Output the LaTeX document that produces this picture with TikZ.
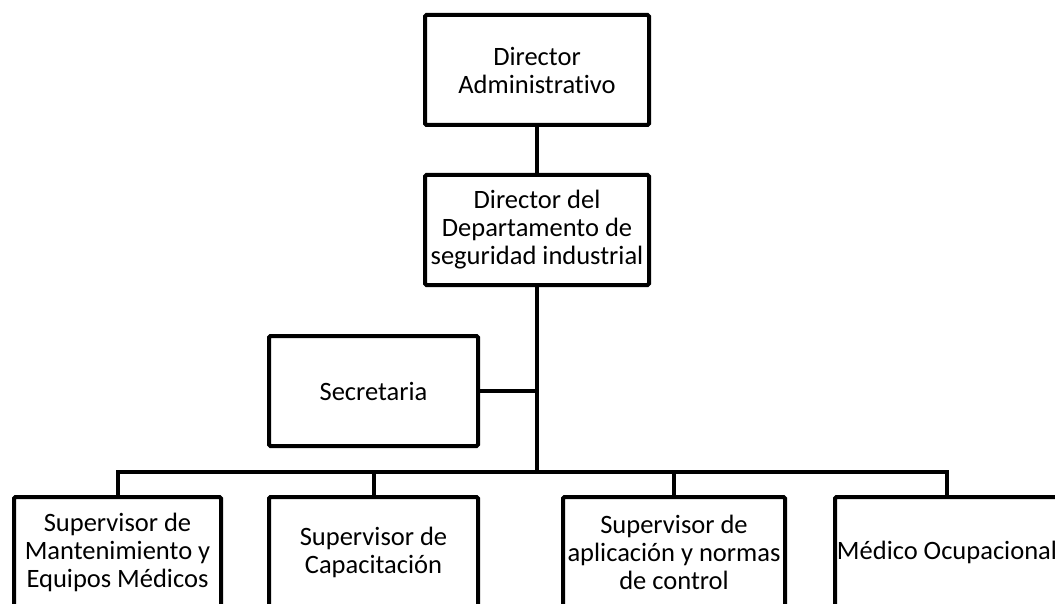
\documentclass[tikz,border=0pt]{standalone}
\usepackage{fontspec}
\setmainfont[Ligatures=NoCommon]{Carlito}
\usetikzlibrary{positioning}

\begin{document}
\begin{tikzpicture}[
    x=1pt, y=-1pt,
    % Box style
    orgbox/.style={
        rectangle,
        rounded corners=1.5pt,
        draw=black,
        line width=4pt,
        fill=white,
        align=center,
        inner sep=1pt,
        minimum height=110pt,
        font=\fontsize{26.5}{28}\selectfont
    },
    % Connector style
    link/.style={
        draw=black,
        line width=4pt
    }
]
\useasboundingbox (0,0) rectangle (1055,604);
\clip (0,0) rectangle (1055,604);

% === Top ===
\node[orgbox, minimum width=224pt] (dir) at (537, 70) {Director\\Administrativo};
\node[orgbox, minimum width=224pt] (dsi) at (537, 230) {Director del\\Departamento de\\seguridad industrial};

% === Staff ===
\node[orgbox, minimum width=209pt] (sec) at (373.5, 391) {Secretaria};

% === Supervisors ===
\node[orgbox, minimum width=207pt] (sup1) at (117.5, 552) {Supervisor de\\Mantenimiento y\\Equipos Médicos};
\node[orgbox, minimum width=209pt] (sup2) at (373.5, 552) {Supervisor de\\Capacitación};
\node[orgbox, minimum width=222pt] (sup3) at (674, 552) {Supervisor de\\aplicación y normas\\de control};
\node[orgbox, minimum width=224pt] (sup4) at (947, 552) {Médico Ocupacional};

\coordinate (bus) at (537, 472);

% === Connectors ===
\draw[link] (dir) -- (dsi);
\draw[link] (dsi) -- (dsi |- bus);
\draw[link] (sec.east) -- (sec.east -| dsi.south);
\draw[link] (sup1.north) |- (bus) -| (sup4.north);
\draw[link] (sup2.north) -- (sup2.north |- bus);
\draw[link] (sup3.north) -- (sup3.north |- bus);

\end{tikzpicture}
\end{document}
